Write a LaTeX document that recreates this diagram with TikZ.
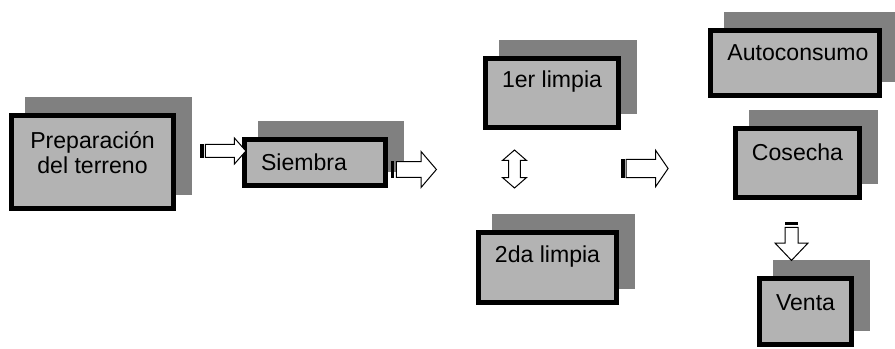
\documentclass[tikz,border=0pt]{standalone}
\usepackage{fontspec}
\setmainfont{Liberation Sans}
\usepackage{tikz}
\usetikzlibrary{shapes.arrows, shadows}
\definecolor{boxgray}{HTML}{B3B3B3}
\definecolor{shadowgray}{HTML}{808080}
\tikzstyle{stepbox} = [rectangle, draw=black, line width=3.75pt, fill=boxgray, inner sep=0pt, outer sep=0pt, general shadow={fill=shadowgray, draw=shadowgray, line width=3.75pt, shadow xshift=12pt, shadow yshift=12pt}]
\tikzstyle{steptext} = [font=\fontsize{17.3}{18.75}\selectfont, align=center, inner sep=0pt]
\tikzstyle{blockarrow} = [single arrow, draw=black, fill=white, line width=0.75pt, inner xsep=0pt, outer sep=0pt, minimum width=0pt]
\tikzstyle{stripe} = [fill=black]

\begin{document}
\begin{tikzpicture}[x=0.75pt, y=-0.75pt]
    \useasboundingbox (0,0) rectangle (895,349);
    \node (preparacion) [stepbox, minimum width=121.5pt, minimum height=69.75pt] at (92.5,162) {};
    \node (preparacion-txt) [steptext, yshift=7.1pt] at (preparacion.center) {Preparación\\del terreno};
    \node (siembra) [stepbox, minimum width=105.75pt, minimum height=34.5pt] at (315,162.5) {};
    \node (siembra-txt) [steptext, xshift=-8.25pt] at (siembra.center) {Siembra};
    \node (limpia1) [stepbox, minimum width=99.75pt, minimum height=51.75pt] at (552,93) {};
    \node (limpia1-txt) [steptext, yshift=8.25pt] at (limpia1.center) {1er limpia};
    \node (limpia2) [stepbox, minimum width=103.5pt, minimum height=52.5pt] at (547.5,267.5) {};
    \node (limpia2-txt) [steptext, yshift=7.9pt] at (limpia2.center) {2da limpia};
    \node (autoconsumo) [stepbox, minimum width=126.75pt, minimum height=48.75pt] at (795,63) {};
    \node (autoconsumo-txt) [steptext, xshift=2.25pt, yshift=7.5pt] at (autoconsumo.center) {Autoconsumo};
    \node (cosecha) [stepbox, minimum width=93pt, minimum height=51.75pt] at (797.5,163) {};
    \node (cosecha-txt) [steptext, yshift=8.25pt] at (cosecha.center) {Cosecha};
    \node (venta) [stepbox, minimum width=69pt, minimum height=49.5pt] at (805.5,311.5) {};
    \node (venta-txt) [steptext, yshift=6.4pt] at (venta.center) {Venta};

    \node (arr-siembra) [blockarrow, minimum height=30.4pt, inner ysep=4.5pt, single arrow head extend=4.9pt, single arrow tip angle=97] at (222.75,151) {};
    \fill [stripe] ([xshift=-3.9pt, yshift=-4.9pt]arr-siembra.tail) rectangle ([xshift=-1.35pt, yshift=4.9pt]arr-siembra.tail);
    \node (arr-limpia) [blockarrow, minimum height=30pt, inner ysep=5.6pt, single arrow head extend=7.5pt, single arrow tip angle=99] at (413,169.5) {};
    \fill [stripe] ([xshift=-3.75pt, yshift=-6pt]arr-limpia.tail) rectangle ([xshift=-1.5pt, yshift=6pt]arr-limpia.tail);
    \node (arr-limpias) [blockarrow, double arrow, minimum height=28.5pt, inner ysep=4.1pt, double arrow head extend=4.5pt, double arrow tip angle=98, rotate=90] at (514.5,169) {};
    \node (arr-cosecha) [blockarrow, minimum height=31.5pt, inner ysep=6.4pt, single arrow head extend=6.75pt, single arrow tip angle=111] at (644,168.5) {};
    \fill [stripe] ([xshift=-3.75pt, yshift=-6.8pt]arr-cosecha.tail) rectangle ([xshift=-1.1pt, yshift=6.8pt]arr-cosecha.tail);
    \node (arr-venta) [blockarrow, minimum height=24.75pt, inner ysep=4.5pt, single arrow head extend=7.5pt, single arrow tip angle=87, rotate=-90] at (791.5,240.5) {};
    \fill [stripe] ([xshift=-4.9pt, yshift=1.5pt]arr-venta.tail) rectangle ([xshift=4.9pt, yshift=3.75pt]arr-venta.tail);
\end{tikzpicture}
\end{document}
